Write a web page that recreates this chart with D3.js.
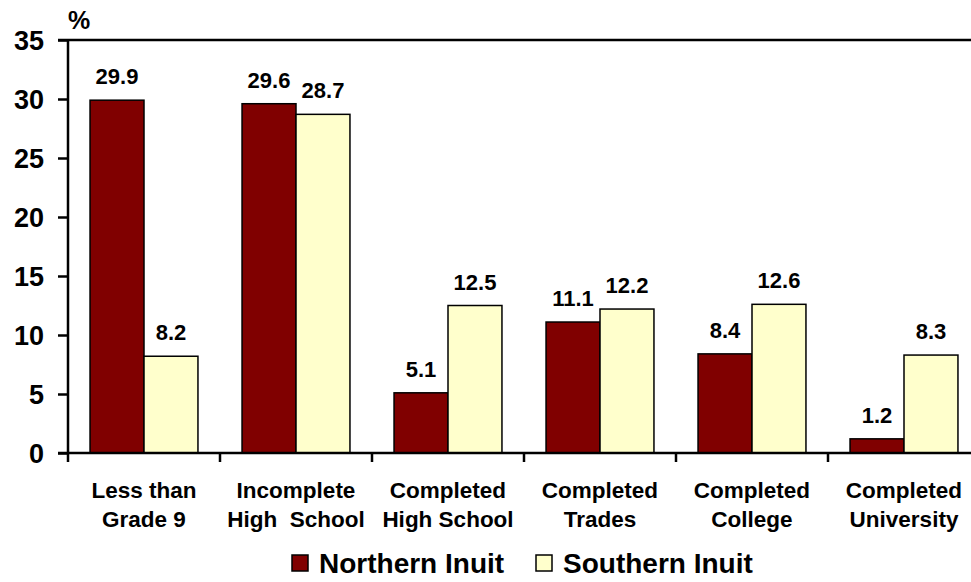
<!DOCTYPE html>
<html>
<head>
<meta charset="utf-8">
<script src="https://cdn.jsdelivr.net/npm/d3@7"></script>
<style>
  html, body { margin: 0; padding: 0; background: #fff; }
  svg { display: block; font-family: "Liberation Sans", Arial, Helvetica, sans-serif; font-weight: bold; }
</style>
</head>
<body>
<svg id="chart" width="971" height="582"></svg>
<script>
// Highest level of schooling, Inuit aged 15+ (percent)
const categories = [
  ["Less than", "Grade 9"],
  ["Incomplete", "High  School"],
  ["Completed", "High School"],
  ["Completed", "Trades"],
  ["Completed", "College"],
  ["Completed", "University"]
];
const seriesNames = ["Northern Inuit", "Southern Inuit"];
const northern = [29.9, 29.6, 5.1, 11.1, 8.4, 1.2];
const southern = [8.2, 28.7, 12.5, 12.2, 12.6, 8.3];
const yTicks = [0, 5, 10, 15, 20, 25, 30, 35];
const colors = ["#800000", "#FFFFCC"];

const svg = d3.select("#chart");
const W = 971;
const plotL = 68, plotR = 980, plotT = 40, plotB = 453;

const keys = categories.map((c, i) => i);
const x0 = d3.scaleBand().domain(keys).range([plotL, plotR]).padding(0);
const x1 = d3.scaleBand().domain([0, 1])
  .range([x0.bandwidth() * 0.145, x0.bandwidth() * 0.855]).padding(0);
const y = d3.scaleLinear().domain([0, 35]).range([plotB, plotT]);

const rows = keys.map(i => ({ i, vals: [northern[i], southern[i]] }));

// bars
const groups = svg.append("g").selectAll("g").data(rows).join("g")
  .attr("transform", d => `translate(${x0(d.i)},0)`);

groups.selectAll("rect").data(d => d.vals.map((v, s) => ({ v, s })))
  .join("rect")
  .attr("x", d => x1(d.s))
  .attr("width", x1.bandwidth())
  .attr("y", d => y(d.v))
  .attr("height", d => y(0) - y(d.v))
  .attr("fill", d => colors[d.s])
  .attr("stroke", "#000")
  .attr("stroke-width", 1.5);

// value labels
groups.selectAll("text").data(d => d.vals.map((v, s) => ({ v, s })))
  .join("text")
  .attr("x", d => x1(d.s) + x1.bandwidth() / 2)
  .attr("y", d => y(d.v) - 16)
  .attr("text-anchor", "middle")
  .attr("font-size", 22)
  .attr("fill", "#000")
  .text(d => d.v.toFixed(1));

// y axis
const yAxis = svg.append("g")
  .attr("transform", `translate(${plotL},0)`)
  .call(d3.axisLeft(y).tickValues(yTicks).tickSize(10).tickPadding(14));
yAxis.select(".domain").remove();
yAxis.selectAll(".tick line").attr("stroke", "#000").attr("stroke-width", 2.5);
yAxis.selectAll(".tick text")
  .attr("font-size", 27).attr("font-family", "Liberation Sans, Arial, sans-serif")
  .attr("font-weight", "bold").attr("fill", "#000").attr("dy", "0.36em");

svg.append("line").attr("x1", plotL).attr("x2", plotL).attr("y1", plotT).attr("y2", plotB + 9)
  .attr("stroke", "#000").attr("stroke-width", 2.5);
svg.append("line").attr("x1", plotL - 10).attr("x2", W).attr("y1", plotT).attr("y2", plotT)
  .attr("stroke", "#000").attr("stroke-width", 2.5);
svg.append("line").attr("x1", plotL - 10).attr("x2", W).attr("y1", plotB).attr("y2", plotB)
  .attr("stroke", "#000").attr("stroke-width", 2.5);

// category separators on the x axis
svg.append("g").selectAll("line").data(keys.slice(1)).join("line")
  .attr("x1", d => x0(d)).attr("x2", d => x0(d))
  .attr("y1", plotB).attr("y2", plotB + 9)
  .attr("stroke", "#000").attr("stroke-width", 2.5);

// category labels
const cat = svg.append("g").selectAll("text").data(keys).join("text")
  .attr("x", d => x0(d) + x0.bandwidth() / 2)
  .attr("y", 498)
  .attr("text-anchor", "middle")
  .attr("font-size", 22.5)
  .attr("fill", "#000")
  .style("white-space", "pre");
cat.append("tspan").attr("x", d => x0(d) + x0.bandwidth() / 2).text(d => categories[d][0]);
cat.append("tspan").attr("x", d => x0(d) + x0.bandwidth() / 2).attr("dy", 29).text(d => categories[d][1]);

// unit label
svg.append("text").attr("x", 68).attr("y", 29).attr("font-size", 25).attr("fill", "#000").text("%");

// legend
const legendX = [292, 536];
const lg = svg.append("g").selectAll("g").data(seriesNames).join("g")
  .attr("transform", (d, i) => `translate(${legendX[i]},555)`);
lg.append("rect").attr("width", 16).attr("height", 16)
  .attr("fill", (d, i) => colors[i]).attr("stroke", "#000").attr("stroke-width", 1.5);
lg.append("text").attr("x", 27).attr("y", 18).attr("font-size", 28).attr("fill", "#000").text(d => d);
</script>
</body>
</html>
